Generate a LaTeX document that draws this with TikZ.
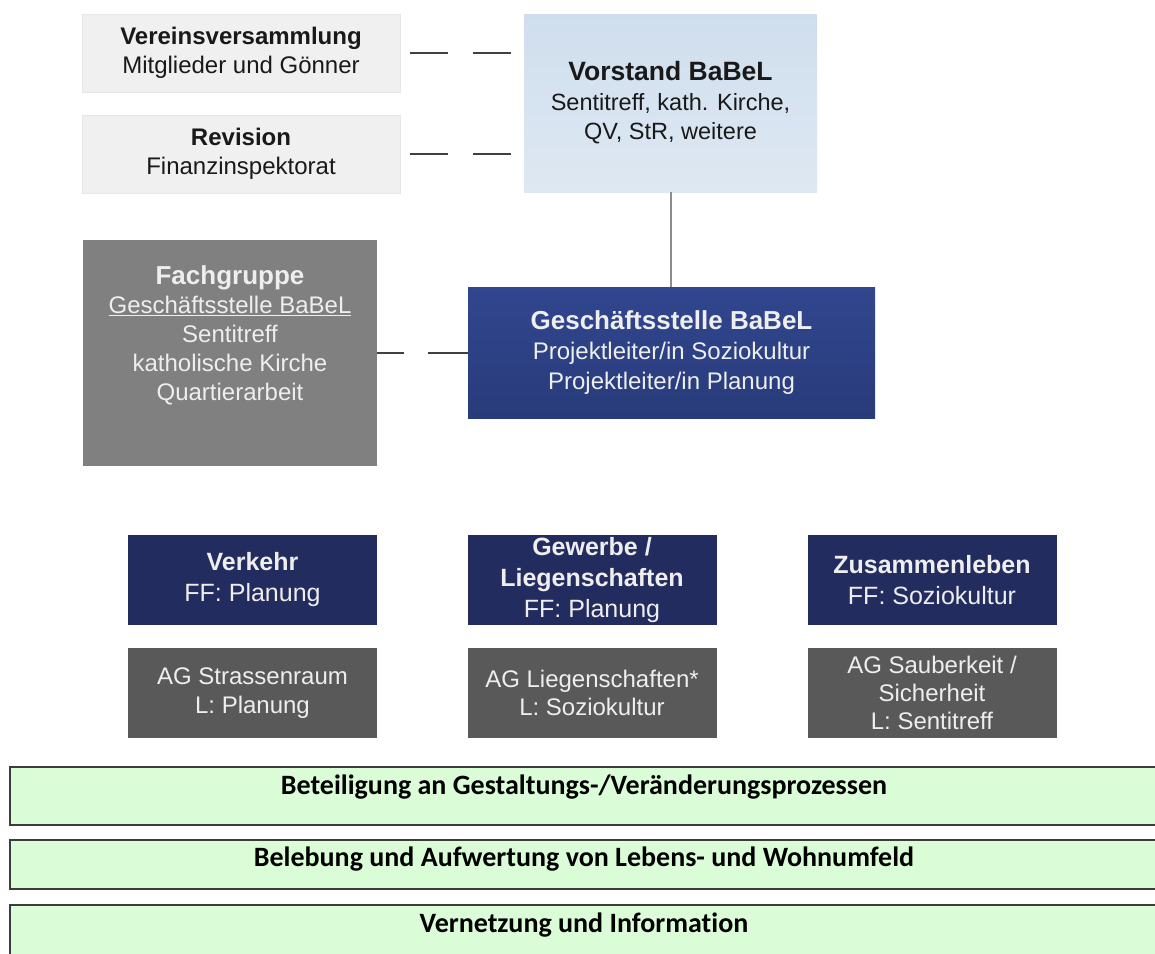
\documentclass[tikz,border=0pt]{standalone}
\usepackage{fontspec}
\setmainfont{Liberation Sans}
\newfontfamily\carl[Ligatures=NoCommon]{Carlito}
\definecolor{lightbox}{HTML}{F0F0F0}
\definecolor{lightedge}{HTML}{E6E6E6}
\definecolor{vtop}{HTML}{CFDEED}
\definecolor{vbot}{HTML}{DEE8F3}
\definecolor{fachgrey}{HTML}{808080}
\definecolor{gstop}{HTML}{31468F}
\definecolor{gsbot}{HTML}{283B7A}
\definecolor{navy}{HTML}{232C5E}
\definecolor{aggrey}{HTML}{595959}
\definecolor{barfill}{HTML}{DAFDD7}
\definecolor{baredge}{HTML}{3C3C3C}
\definecolor{conline}{HTML}{404040}
\definecolor{vline}{HTML}{8C8C8C}
\definecolor{lighttext}{HTML}{EEEEEE}
\begin{document}
\begin{tikzpicture}[x=1pt,y=-1pt,
  box/.style={inner sep=0pt, outer sep=0pt, align=center},
  topleft/.style={box, fill=lightbox, draw=lightedge, minimum width=318pt, minimum height=78pt,
     font=\fontsize{24}{28.5}\selectfont, text=black!90},
  navybox/.style={box, fill=navy, minimum width=249pt, minimum height=90pt,
     font=\fontsize{25}{31}\selectfont, text=lighttext},
  agbox/.style={box, fill=aggrey, minimum width=249pt, minimum height=90pt,
     font=\fontsize{24}{28.5}\selectfont, text=lighttext},
  bar/.style={box, fill=barfill, draw=baredge, line width=1.3pt, minimum width=1160pt},
  bartext/.style={box, font=\carl\bfseries\fontsize{28}{32}\selectfont, text=black},
  dashcon/.style={draw=conline, line width=2pt}
]
\useasboundingbox (0,0) rectangle (1155,953);

% top left boxes
\node[topleft] (verein) at (241,53) {\textbf{Vereinsversammlung}\\Mitglieder und Gönner};
\node[topleft] (revision) at (241,154) {\textbf{Revision}\\Finanzinspektorat};

% Vorstand
\node[box, top color=vtop, bottom color=vbot, minimum width=293pt, minimum height=178pt,
      font=\fontsize{23.5}{29.5}\selectfont, text=black!90] (vorstand) at (670.5,103)
  {{\bfseries\fontsize{26.5}{29.5}\selectfont Vorstand BaBeL}\\Sentitreff, kath. Kirche,\\QV, StR, weitere};

% Fachgruppe
\node[box, fill=fachgrey, minimum width=294pt, minimum height=226pt] (fach) at (230,353) {};
\node[box, font=\fontsize{24}{29}\selectfont, text=lighttext] (fachtxt) at (230,335)
  {{\bfseries\fontsize{26}{29}\selectfont Fachgruppe}\\\underline{Geschäftsstelle BaBeL}\\Sentitreff\\katholische Kirche\\Quartierarbeit};

% Geschaeftsstelle
\node[box, top color=gstop, bottom color=gsbot, minimum width=407pt, minimum height=131pt,
      font=\fontsize{24}{30}\selectfont, text=lighttext] (gs) at (671.5,352.5)
  {{\bfseries\fontsize{26}{30}\selectfont Geschäftsstelle BaBeL}\\Projektleiter/in Soziokultur\\Projektleiter/in Planung};

% connectors
\draw[dashcon, dash pattern=on 38pt off 25pt, shorten <=10pt, shorten >=11pt]
  (verein.east) -- (verein.east -| vorstand.west);
\draw[dashcon, dash pattern=on 38pt off 25pt, shorten <=10pt, shorten >=11pt]
  (revision.east) -- (revision.east -| vorstand.west);
\draw[draw=vline, line width=2pt] (vorstand.south) -- (vorstand.south |- gs.north);
\draw[dashcon, dash pattern=on 27pt off 24pt on 40pt off 0pt]
  (fach.east) -- (fach.east -| gs.west);

% Themen boxes
\node[navybox] (verkehr) at (252.5,580) {{\bfseries Verkehr}\\FF: Planung};
\node[navybox] (gewerbe) at (592,580) {{\bfseries Gewerbe /}\\{\bfseries Liegenschaften}\\FF: Planung};
\node[navybox] (zusammen) at (932,580) {{\bfseries Zusammenleben}\\FF: Soziokultur};

\node[agbox] (ag1) at (252.5,693) {AG Strassenraum\\L: Planung};
\node[agbox] (ag2) at (592,693) {AG Liegenschaften*\\L: Soziokultur};
\node[agbox, font=\fontsize{24}{28}\selectfont] (ag3) at (932,693) {AG Sauberkeit /\\Sicherheit\\L: Sentitreff};

% green bars
\node[bar, minimum height=58pt] (bar1) at (590,796) {};
\node[bartext] (bar1t) at (584,787) {Beteiligung an Gestaltungs-/Veränderungsprozessen};
\node[bar, minimum height=49pt] (bar2) at (590,864.5) {};
\node[bartext] (bar2t) at (584,859) {Belebung und Aufwertung von Lebens- und Wohnumfeld};
\node[bar, minimum height=62pt] (bar3) at (590,936) {};
\node[bartext] (bar3t) at (584,925) {Vernetzung und Information};
\end{tikzpicture}
\end{document}
